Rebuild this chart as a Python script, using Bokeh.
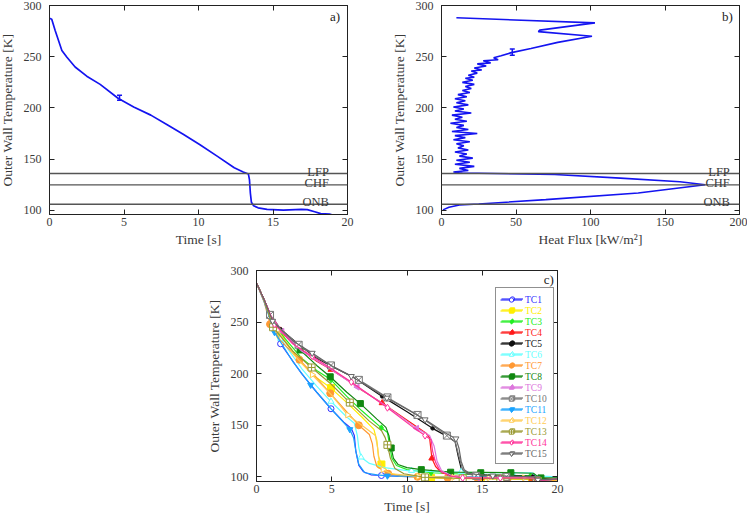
import numpy as np
from bokeh.plotting import figure
from bokeh.models import (LinearAxis, Span, Label, Whisker, TeeHead, ColumnDataSource,
                          Legend, LegendItem, Spacer, Range1d, FixedTicker, CustomJSTickFormatter)
from bokeh.layouts import column, row
from bokeh.embed import file_html
from bokeh.resources import INLINE

FONT = "Liberation Serif"
TXT = "#3a3a3a"
BLUE = "#1414f0"

# ---------------- data: panel a ----------------
a_t = [0, 0.15, 0.38, 0.83, 1.17, 1.72, 2.5, 3.4, 4.6, 5.65, 6.8, 7.9, 9.0, 10.1, 11.25, 12.4,
       13.0, 13.35, 13.42, 13.48, 13.55, 13.7, 14.0, 14.6, 15.7, 16.9, 17.3, 17.8, 18.2, 18.8, 18.95]
a_T = [287.5, 286.5, 275.5, 256, 249.5, 240, 231, 223, 209.5, 201, 193, 183.5, 174, 164, 153, 141.6,
       137.5, 135.5, 130, 117, 108, 104.5, 102.5, 101, 100.3, 101, 100.8, 98.7, 96.8, 96.3, 95.8]
a_err_t = [4.7]
a_err_lo = [207.5]
a_err_hi = [212.5]

# ---------------- data: panel b ----------------
hf_q = [10, 103, 66, 65, 101, 78, 60, 47, 40, 35, 38, 28, 33, 24, 30, 22, 27, 20, 24, 18, 22, 16, 21,
        14, 22, 16, 20, 14, 19, 11, 17, 9, 16, 10, 18, 8, 15, 9, 20, 7, 14, 9, 17, 6, 15, 10, 18, 7,
        24, 9, 16, 8, 19, 10, 15, 11, 18, 9, 17, 12, 21, 10, 19, 9, 22, 12, 18, 8, 14, 76, 120, 160,
        177, 132, 70, 25, 12, 5, 1]
hf_T = [288, 283, 276, 274.5, 270, 264, 258, 254, 251, 249, 247, 246, 244, 243, 241, 239, 237, 236,
        234, 232, 230, 229, 227, 225, 223, 221, 219, 217, 215, 213, 211, 209, 207, 205, 203, 201, 199,
        197, 195, 193, 191, 189, 187, 185, 183, 181, 179, 177, 175, 173, 171, 169, 167, 165, 163, 161,
        159, 157, 155, 153, 151, 149, 147, 145, 143, 141, 139, 137.5, 136.5, 135, 131.5, 128, 125, 117,
        110.5, 106.3, 105.2, 103, 100.5]
b_err_q = [47.5]
b_err_lo = [251.5]
b_err_hi = [257.5]

# boiling regime boundaries
regime_T = [136, 125, 106]
regime_lbl = ["LFP", "CHF", "ONB"]

# ---------------- data: panel c ----------------
tc_names = ["TC%d" % i for i in range(1, 16)]
tc_colors = ["#3333ff", "#ffee00", "#22ee22", "#ff1a1a", "#111111", "#66ffff", "#ff9933", "#118811",
             "#dd77dd", "#777777", "#1aa3ff", "#ffcc55", "#999933", "#ff3399", "#666666"]
tc_markers = ["circle", "square", "diamond", "triangle", "circle", "triangle", "circle", "square",
              "triangle", "square_x", "inverted_triangle", "triangle", "square_cross", "diamond",
              "inverted_triangle"]
tc_filled = [False, True, True, True, True, False, True, True, True, False, True, False, False, False, False]
tc_angles = [0, 0, 0, 0, 0, 0, 0, 0, np.pi / 2, 0, 0, -np.pi / 2, 0, 0, 0]
tc_sizes = [6, 7, 6, 6, 3.5, 6, 7, 6, 6, 7, 6, 6, 7, 7, 6]

tc_t = [
    [0, 0.5, 1.0, 1.6, 3.0, 4.0, 4.95, 5.8, 6.3, 6.5, 6.6, 6.8, 7.1, 7.6, 8.3, 10.0, 15.0, 18.35, 18.7, 20.0],
    [0, 0.5, 0.9, 1.6, 3.0, 4.0, 4.95, 6.0, 7.0, 7.8, 8.0, 8.1, 8.3, 8.8, 9.5, 11.6, 14.9, 18.3, 18.7, 20.0],
    [0, 0.5, 0.9, 1.6, 3.0, 4.0, 4.95, 6.0, 7.0, 8.3, 8.7, 8.85, 9.0, 9.3, 10.0, 11.6, 14.9, 18.2, 18.6, 20.0],
    [0, 0.5, 0.9, 1.6, 3.0, 4.0, 4.95, 6.0, 7.0, 8.35, 9.5, 10.5, 11.3, 11.5, 11.6, 11.65, 11.9, 12.3, 13.0, 14.9, 18.3, 18.7, 20.0],
    [0, 0.5, 0.9, 1.6, 3.0, 4.0, 4.95, 6.5, 8.35, 10.0, 11.7, 12.7, 13.2, 13.4, 13.6, 14.0, 15.0, 18.4, 18.7, 20.0],
    [0, 0.5, 0.9, 1.6, 3.0, 4.0, 4.95, 6.0, 6.5, 6.7, 6.8, 6.95, 7.5, 8.5, 10.0, 12.0, 15.0, 18.3, 18.6, 20.0],
    [0, 0.5, 0.9, 1.6, 2.85, 4.0, 4.9, 6.0, 6.8, 7.5, 7.7, 7.8, 8.0, 8.75, 9.5, 10.7, 12.7, 18.5, 18.8, 20.0],
    [0, 0.5, 0.9, 1.6, 2.9, 4.0, 4.9, 6.0, 6.9, 8.0, 8.6, 8.8, 8.95, 9.1, 9.4, 10.0, 10.95, 12.9, 16.9, 18.4, 18.8, 20.0],
    [0, 0.5, 0.9, 1.7, 3.0, 4.95, 6.7, 8.5, 10.65, 11.5, 11.8, 12.0, 12.3, 13.0, 15.0, 18.5, 18.7, 20.0],
    [0, 0.5, 0.9, 1.6, 2.8, 4.0, 4.95, 6.8, 8.7, 10.7, 12.65, 13.2, 13.45, 13.7, 14.0, 14.6, 16.6, 18.3, 18.6, 20.0],
    [0, 0.5, 1.2, 2.4, 3.6, 4.95, 6.2, 6.45, 6.6, 6.8, 7.2, 8.0, 8.7, 13.0, 18.3, 18.7, 20.0],
    [0, 0.5, 0.9, 1.4, 2.5, 3.7, 4.95, 6.05, 7.0, 7.9, 8.05, 8.15, 8.4, 9.0, 10.75, 15.45, 18.5, 18.8, 20.0],
    [0, 0.5, 1.1, 2.4, 3.66, 4.95, 6.2, 7.5, 8.3, 8.55, 8.7, 8.9, 9.2, 9.8, 11.2, 13.7, 18.5, 18.7, 20.0],
    [0, 0.5, 1.2, 2.4, 3.7, 4.95, 6.3, 8.7, 10.5, 11.2, 11.6, 11.7, 11.9, 12.2, 12.8, 13.7, 18.4, 18.7, 20.0],
    [0, 0.5, 1.07, 2.4, 3.7, 4.95, 6.3, 8.66, 11.2, 12.5, 13.25, 13.45, 13.6, 13.8, 14.2, 15.7, 18.4, 18.7, 20.0],
]
tc_T = [
    [288, 271, 250, 229, 200, 182, 166, 153, 147, 140, 125, 111, 105, 102, 101.3, 100.3, 99.5, 99, 97, 98],
    [288, 272, 257, 238, 210, 196, 186, 172, 158, 146, 135, 120, 112, 104, 101, 99, 98, 97.5, 95.5, 97],
    [288, 272, 257, 239, 215, 203, 194, 178, 164, 147.5, 143, 130, 118, 111, 107, 104, 102, 101, 98, 98],
    [288, 272, 258, 242, 223, 212, 204, 194, 184, 171.6, 160, 150, 142, 138, 125, 118, 110, 104, 101, 99, 98.5, 97, 98],
    [288, 272, 258, 243, 226, 215, 207.5, 196, 178, 163, 147, 139, 134, 120, 108, 103, 102, 100.5, 98, 98.5],
    [288, 271, 256, 234, 205, 188, 173, 158, 152, 140, 128, 119, 113, 109, 106, 105, 104, 104, 101, 100],
    [288, 270, 248, 232, 213.5, 196, 181, 163, 150, 141, 132, 120, 110, 103, 101, 100, 99, 98.5, 96, 97],
    [288, 272, 257, 241, 223, 208, 197, 182, 171, 156, 148, 140, 128, 118, 112, 109, 107, 104.5, 104, 103.5, 99, 99],
    [288, 272, 258, 241, 222, 204, 187, 170, 147, 140, 130, 115, 106, 101, 99, 99, 96, 98],
    [288, 272, 257, 243, 228, 216, 208, 194, 177, 160, 140, 134, 120, 107, 103, 101, 100, 100, 97, 98],
    [288, 270, 240, 212, 189, 166, 146, 138, 125, 112, 104, 102, 101, 100, 99, 96, 98],
    [288, 271, 256, 242.5, 218, 199, 180, 160, 150, 140, 128, 116, 107, 103, 100.5, 99, 99, 97, 98],
    [288, 271, 245, 222, 206, 190, 172, 154, 145, 138, 131, 118, 108, 103, 99.5, 98.5, 98, 96, 98],
    [288, 272, 248, 229, 217, 205, 192, 167, 147, 140, 136, 125, 114, 106, 101, 99, 99, 96, 98],
    [288, 272, 251, 232, 220, 208, 197.5, 176.5, 155.5, 143, 137, 128, 115, 107, 103, 101, 100, 97, 98],
]
mk_t = [
    [1.6, 4.95, 8.3, 11.65, 15.0, 18.35],
    [1.6, 4.95, 8.3, 11.6, 14.9, 18.3],
    [1.6, 4.95, 8.3, 11.6, 14.9, 18.2],
    [1.6, 4.95, 8.35, 11.65, 14.9, 18.3],
    [1.6, 4.95, 8.35, 11.7, 15.0, 18.4],
    [1.6, 4.95, 6.95, 10.3, 13.6, 17.0],
    [0.9, 2.85, 4.9, 6.8, 8.75, 10.7, 12.7, 14.7, 16.7, 18.7],
    [0.9, 2.9, 4.9, 6.9, 8.95, 10.95, 12.9, 14.9, 16.9, 18.9],
    [1.7, 6.7, 10.65, 14.7, 18.7],
    [0.9, 2.8, 4.95, 6.8, 8.7, 10.7, 12.65, 14.6, 16.6, 18.6],
    [1.2, 3.6, 6.2, 8.7, 11.2, 13.7, 16.2, 18.7],
    [1.4, 3.7, 6.05, 8.4, 10.75, 13.1, 15.45, 17.8],
    [1.1, 3.66, 6.2, 8.7, 11.2, 13.7, 16.2, 18.7],
    [1.2, 3.7, 6.3, 8.7, 11.2, 13.7, 16.2, 18.7],
    [1.07, 3.7, 6.3, 8.66, 11.2, 13.25, 15.7, 18.7],
]
mk_T = [
    [229, 166, 101.3, 100, 99.5, 99],
    [238, 186, 112, 99, 98, 97.5],
    [239, 194, 147.5, 104, 102, 101],
    [242, 204, 171.6, 118, 99, 98.5],
    [243, 207.5, 178, 147, 102, 100.5],
    [234, 173, 119, 106, 105, 104],
    [248, 213.5, 181, 150, 103, 100, 99, 98.5, 98.5, 96],
    [257, 223, 197, 171, 128, 107, 104.5, 104, 104, 99],
    [241, 187, 147, 99, 96],
    [257, 228, 208, 194, 177, 160, 140, 101, 100, 97],
    [240, 189, 146, 101, 100, 99.5, 99, 96],
    [242.5, 199, 160, 107, 100.5, 99.5, 99, 99],
    [245, 206, 172, 131, 99.5, 98.5, 98, 96],
    [248, 217, 192, 167, 140, 99, 99, 96],
    [251, 220, 197.5, 176.5, 155.5, 137, 101, 97],
]

t_ticks = [0, 5, 10, 15, 20]
T_ticks = [100, 150, 200, 250, 300]
q_ticks = [0, 50, 100, 150, 200]


def make_fig(xr, yr, xt, yt, xlabel, ylabel, fw, fh, bl, br, bt, bb):
    p = figure(x_range=Range1d(*xr), y_range=Range1d(*yr), frame_width=fw, frame_height=fh,
               min_border_left=bl, min_border_right=br, min_border_top=bt, min_border_bottom=bb,
               output_backend="svg", toolbar_location=None, x_axis_label=xlabel, y_axis_label=ylabel)
    p.grid.visible = False
    p.outline_line_color = "#222222"
    p.outline_line_width = 1
    p.background_fill_color = "white"
    p.border_fill_color = "white"
    for ax, tk in ((p.xaxis[0], xt), (p.yaxis[0], yt)):
        ax.ticker = FixedTicker(ticks=tk)
        ax.major_tick_in = 5
        ax.major_tick_out = 0
        ax.minor_tick_line_color = None
        ax.axis_line_color = "#222222"
        ax.major_tick_line_color = "#222222"
        ax.major_label_text_font = FONT
        ax.major_label_text_font_size = "12px"
        ax.major_label_text_color = TXT
        ax.axis_label_text_font = FONT
        ax.axis_label_text_font_size = "13.5px"
        ax.axis_label_text_font_style = "normal"
        ax.axis_label_text_color = TXT
    p.xaxis[0].major_label_standoff = 3
    p.xaxis[0].axis_label_standoff = 3
    p.yaxis[0].major_label_standoff = 8
    p.yaxis[0].axis_label_standoff = 6
    for place, tk in (("above", xt), ("right", yt)):
        ax = LinearAxis(ticker=FixedTicker(ticks=tk), major_tick_in=5, major_tick_out=0,
                        minor_tick_line_color=None,
                        formatter=CustomJSTickFormatter(code="return ''"),
                        major_label_text_font_size="1px", major_label_text_color=None,
                        major_label_standoff=0, axis_line_color="#222222",
                        major_tick_line_color="#222222")
        p.add_layout(ax, place)
    return p


def add_regimes(p, xlab):
    for T, lbl in zip(regime_T, regime_lbl):
        p.add_layout(Span(location=T, dimension="width", line_color="#555555", line_width=1.3))
        p.add_layout(Label(x=xlab, y=T, text=lbl, text_align="right", text_baseline="alphabetic",
                           y_offset=2, text_font=FONT, text_font_size="12.5px", text_color=TXT))


# ---------------- panel a ----------------
pa = make_fig((0, 20), (96, 300), t_ticks, T_ticks, "Time [s]", "Outer Wall Temperature [K]",
              298, 209, 55, 39, 4, 47)
add_regimes(pa, 18.75)
pa.line(a_t, a_T, line_color=BLUE, line_width=1.7)
src_a = ColumnDataSource(dict(x=a_err_t, lo=a_err_lo, hi=a_err_hi))
pa.add_layout(Whisker(source=src_a, base="x", lower="lo", upper="hi", dimension="height",
                      line_color=BLUE, line_width=1.5,
                      lower_head=TeeHead(size=5, line_color=BLUE, line_width=1.5),
                      upper_head=TeeHead(size=5, line_color=BLUE, line_width=1.5)))
pa.add_layout(Label(x=19.5, y=289, text="a)", text_align="right", text_baseline="middle",
                    text_font=FONT, text_font_size="13px", text_color="#222222"))

# ---------------- panel b ----------------
pb = make_fig((0, 200), (96, 300), q_ticks, T_ticks, "Heat Flux [kW/m²]", "Outer Wall Temperature [K]",
              298, 209, 55, 8, 4, 47)
add_regimes(pb, 193.5)
pb.line(hf_q, hf_T, line_color=BLUE, line_width=1.6)
src_b = ColumnDataSource(dict(x=b_err_q, lo=b_err_lo, hi=b_err_hi))
pb.add_layout(Whisker(source=src_b, base="x", lower="lo", upper="hi", dimension="height",
                      line_color=BLUE, line_width=1.5,
                      lower_head=TeeHead(size=5, line_color=BLUE, line_width=1.5),
                      upper_head=TeeHead(size=5, line_color=BLUE, line_width=1.5)))
pb.add_layout(Label(x=195.5, y=289, text="b)", text_align="right", text_baseline="middle",
                    text_font=FONT, text_font_size="13px", text_color="#222222"))

# ---------------- panel c ----------------
pc = make_fig((0, 20), (95.5, 300), t_ticks, T_ticks, "Time [s]", "Outer Wall Temperature [K]",
              301, 211, 55, 20, 9, 32)
pc.add_layout(Label(x=19.75, y=291.5, text="c)", text_align="right", text_baseline="middle",
                    text_font=FONT, text_font_size="13px", text_color="#222222"))

LEG_X, LEG_Y, LEG_P, LEG_H, LEG_GW = 239, 17, 5, 11, 22
leg_common = dict(orientation="vertical", margin=0, spacing=0, glyph_width=LEG_GW,
                  glyph_height=LEG_H, label_height=LEG_H, label_standoff=3,
                  label_text_font=FONT, label_text_font_size="9.5px",
                  label_text_baseline="middle")
lines, scats = [], []
for i in range(15):
    col = tc_colors[i]
    lr = pc.line(tc_t[i], tc_T[i], line_color=col, line_width=1.2)
    sr = pc.scatter(mk_t[i], mk_T[i], marker=tc_markers[i], size=tc_sizes[i], angle=tc_angles[i],
                    line_color=col, fill_color=(col if tc_filled[i] else "white"), line_width=1)
    lines.append(lr)
    scats.append(sr)

# framed legend: box + glyphs (labels transparent, coloured labels overlaid below)
big = Legend(items=[LegendItem(label=tc_names[i], renderers=[lines[i], scats[i]]) for i in range(15)],
             location=(LEG_X, LEG_Y), padding=LEG_P, border_line_color="#222222", border_line_width=1.2,
             background_fill_color="white", background_fill_alpha=1.0, label_text_alpha=0.0,
             **leg_common)
pc.add_layout(big)
for i in range(15):
    leg = Legend(items=[LegendItem(label=tc_names[i], renderers=[lines[i], scats[i]])],
                 location=(LEG_X + LEG_P, LEG_Y + LEG_P + (14 - i) * LEG_H), padding=0,
                 border_line_color=None, background_fill_alpha=0.0,
                 label_text_color=tc_colors[i], **leg_common)
    pc.add_layout(leg)

layout = column(row(pa, pb), row(Spacer(width=207, height=10), pc), margin=(1, 0, -12, -6))

open("out.html", "w").write(file_html(layout, INLINE))
